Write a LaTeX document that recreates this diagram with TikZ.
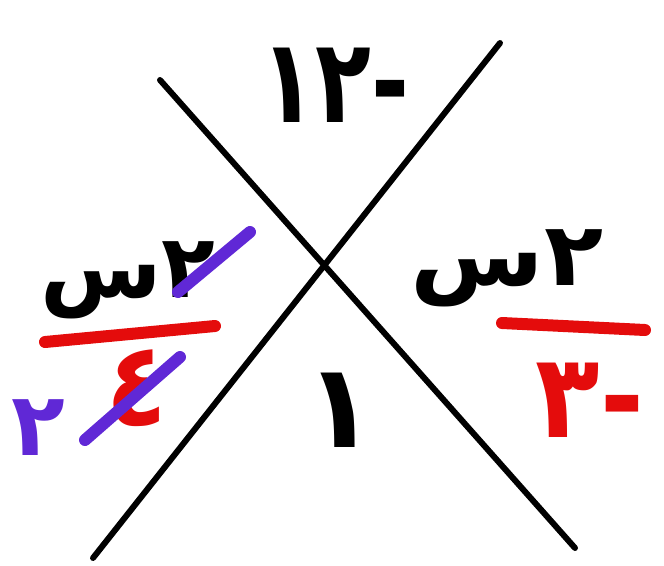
\documentclass[tikz,border=0pt]{standalone}
\usepackage{graphicx}
\usepackage{fontspec}
\newfontfamily\arabicfont[Script=Arabic]{DejaVu Sans}
\TeXXeTstate=1
\definecolor{penred}{RGB}{228,12,12}
\definecolor{penpurple}{RGB}{96,40,214}
\begin{document}
\begin{tikzpicture}[
  x=0.75pt,y=-0.75pt,
  axis/.style={line width=4.5pt,line cap=round},
  num/.style={font=\arabicfont\bfseries\fontsize{66}{66}\selectfont,inner sep=0pt},
  tall/.style={num,font=\arabicfont\bfseries\fontsize{88}{88}\selectfont},
  bar/.style={penred,line width=9pt,line cap=round},
  strike/.style={penpurple,line width=9pt,line cap=round}
]
\useasboundingbox (0,0) rectangle (664,565);
% the cross
\draw[axis] (160,80) -- (575,548);
\draw[axis] (500,43) -- (93,558);
% product and sum
\node[tall] (prod) at (335,85) {\scalebox{0.78}[1]{\beginR -١٢\endR}};
\node[tall] (sum) at (340,410) {١};
% the two factors
\node[num] (lnum) at (128,280) {\beginR ٢س\endR};
\node[tall,penred] (lden) at (137,388) {\scalebox{0.85}[1]{٤}};
\node[num] (rnum) at (507,268) {\scalebox{1.1}[1]{\beginR ٢س\endR}};
\node[tall,penred] (rden) at (590,400) {\scalebox{0.9}[1]{\beginR -٣\endR}};
\node[num,penpurple] (lred) at (38,428) {٢};
\draw[bar] (45,342) -- (215,326);
\draw[bar] (502,323) -- (645,330);
% cancelling
\draw[strike] (178,292) -- (250,232);
\draw[strike] (85,440) -- (180,357);
\end{tikzpicture}
\end{document}
